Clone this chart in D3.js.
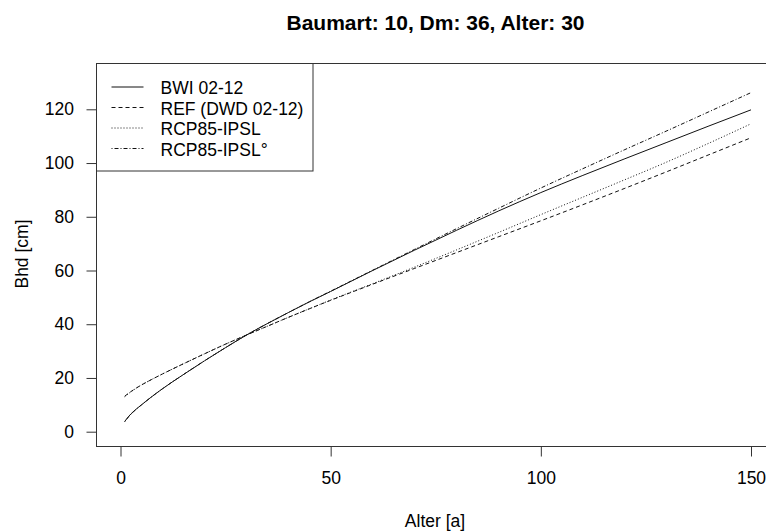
<!DOCTYPE html>
<html>
<head>
<meta charset="utf-8">
<script src="https://cdn.jsdelivr.net/npm/d3@7"></script>
<style>
  html, body { margin: 0; padding: 0; background: #fff; }
  svg { display: block; font-family: "Liberation Sans", Arial, sans-serif; }
</style>
</head>
<body>
<svg id="chart" width="766" height="532"></svg>
<script>
// Age (years) at which the diameter curves are tabulated
const ages = [1, 2, 3, 5, 7, 10, 15, 20, 25, 30, 35, 40, 45, 50, 60, 70, 80, 90, 100, 110, 120, 130, 140, 150];

// Diameter at breast height (cm) for each scenario
const bwi     = [3.8, 5.8, 7.4, 10.0, 12.5, 16.0, 21.3, 26.4, 31.3, 36.0, 40.3, 44.4, 48.4, 52.2, 60.0, 67.6, 75.0, 82.2, 89.0, 95.4, 101.6, 107.7, 113.8, 119.8];
const ref     = [13.2, 14.4, 15.5, 17.4, 19.1, 21.5, 25.3, 29.0, 32.6, 36.0, 39.3, 42.6, 45.8, 48.9, 54.9, 60.8, 66.7, 72.6, 78.5, 84.5, 90.6, 96.8, 103.1, 109.4];
const rcp     = [13.0, 14.3, 15.4, 17.4, 19.1, 21.5, 25.3, 29.0, 32.6, 36.0, 39.3, 42.6, 45.8, 49.0, 55.1, 61.3, 67.7, 74.2, 80.8, 87.3, 93.8, 100.4, 107.4, 114.6];
const rcpDeg  = [3.7, 5.7, 7.3, 10.0, 12.5, 16.0, 21.3, 26.4, 31.3, 36.0, 40.3, 44.4, 48.4, 52.3, 60.1, 67.9, 75.6, 83.2, 90.7, 97.9, 105.0, 112.0, 119.1, 126.2];

const seriesNames = ["BWI 02-12", "REF (DWD 02-12)", "RCP85-IPSL", "RCP85-IPSL\u00b0"];
const seriesValues = [bwi, ref, rcp, rcpDeg];
const dashes = [null, "4,3", "1,2", "1,2,4,2"];

const xTicks = [0, 50, 100, 150];
const yTicks = [0, 20, 40, 60, 80, 100, 120];

const titleText = "Baumart: 10, Dm: 36, Alter: 30";
const xLabel = "Alter [a]";
const yLabel = "Bhd [cm]";

const svg = d3.select("#chart");
const box = { left: 96.5, top: 63.5, right: 775, bottom: 446.5 };

const x = d3.scaleLinear().domain([0, 150]).range([120.5, 751]);
const y = d3.scaleLinear().domain([0, 120]).range([431.7, 109.3]);

const axisColor = "#333";
const fontSize = 17.5;

// Curves
const line = d3.line()
  .x(d => x(d[0]))
  .y(d => y(d[1]))
  .curve(d3.curveMonotoneX);

seriesValues.forEach((vals, i) => {
  svg.append("path")
    .datum(ages.map((a, j) => [a, vals[j]]))
    .attr("d", line)
    .attr("fill", "none")
    .attr("stroke", "#111")
    .attr("stroke-width", 1)
    .attr("stroke-dasharray", dashes[i]);
});

// Plot frame
svg.append("rect")
  .attr("x", box.left).attr("y", box.top)
  .attr("width", box.right - box.left)
  .attr("height", box.bottom - box.top)
  .attr("fill", "none")
  .attr("stroke", axisColor);

// Axes
const gx = svg.append("g")
  .attr("transform", `translate(0,${box.bottom})`)
  .call(d3.axisBottom(x).tickValues(xTicks).tickSize(10).tickPadding(15).tickSizeOuter(0));
const gy = svg.append("g")
  .attr("transform", `translate(${box.left},0)`)
  .call(d3.axisLeft(y).tickValues(yTicks).tickSize(10).tickPadding(12.5).tickSizeOuter(0));

[gx, gy].forEach(g => {
  g.select(".domain").remove();
  g.selectAll(".tick line").attr("stroke", axisColor);
  g.selectAll(".tick text")
    .attr("fill", "#000")
    .style("font-size", fontSize + "px")
    .style("font-family", '"Liberation Sans", Arial, sans-serif');
});

// Title and axis labels
svg.append("text")
  .attr("x", 435.5).attr("y", 29.5)
  .attr("text-anchor", "middle")
  .style("font-size", "21px")
  .style("font-weight", "bold")
  .text(titleText);

svg.append("text")
  .attr("x", 435).attr("y", 527)
  .attr("text-anchor", "middle")
  .style("font-size", fontSize + "px")
  .text(xLabel);

svg.append("text")
  .attr("transform", "translate(28,254) rotate(-90)")
  .attr("text-anchor", "middle")
  .style("font-size", fontSize + "px")
  .text(yLabel);

// Legend
const legend = svg.append("g");
legend.append("rect")
  .attr("x", box.left).attr("y", box.top)
  .attr("width", 313 - box.left)
  .attr("height", 171 - box.top)
  .attr("fill", "#fff")
  .attr("stroke", axisColor);

const rowY = [88, 108.5, 129, 149.5];
seriesNames.forEach((name, i) => {
  legend.append("line")
    .attr("x1", 111.5).attr("x2", 143.5)
    .attr("y1", rowY[i] - 1).attr("y2", rowY[i] - 1)
    .attr("stroke", "#111")
    .attr("stroke-dasharray", dashes[i]);
  legend.append("text")
    .attr("x", 160.5).attr("y", rowY[i] + 6.3)
    .style("font-size", fontSize + "px")
    .text(name);
});
</script>
</body>
</html>
